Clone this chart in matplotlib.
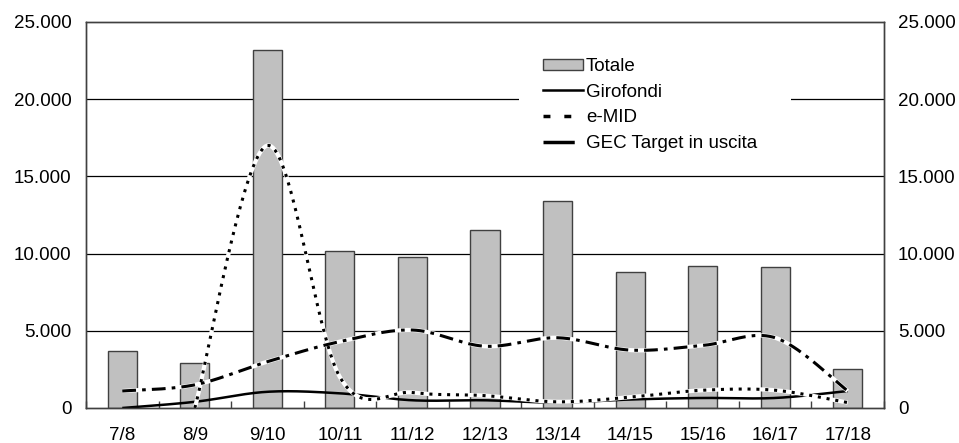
import numpy as np
import matplotlib
matplotlib.use("Agg")
import matplotlib.pyplot as plt
from matplotlib.lines import Line2D
from matplotlib.patches import Patch, Rectangle

categories = ["7/8", "8/9", "9/10", "10/11", "11/12", "12/13", "13/14", "14/15", "15/16", "16/17", "17/18"]
totale = [3700, 2900, 23200, 10200, 9800, 11500, 13400, 8800, 9200, 9100, 2550]
girofondi = [0, 400, 1050, 950, 500, 500, 350, 550, 650, 650, 1100]
emid = [np.nan, 0, 17000, 2000, 1000, 800, 400, 700, 1150, 1150, 350]
gec = [1100, 1500, 3000, 4300, 5050, 4000, 4550, 3750, 4050, 4550, 1100]
yticks = [0, 5000, 10000, 15000, 20000, 25000]
ytick_labels = ["0", "5.000", "10.000", "15.000", "20.000", "25.000"]

plt.rcParams['font.family'] = ['Liberation Sans', 'DejaVu Sans']
FS = 13.5


def smooth(xs, ys, n=40):
    """Excel-like smoothed line: cubic Bezier segments with Catmull-Rom tangents."""
    xs = np.asarray(xs, float)
    ys = np.asarray(ys, float)
    m = ~np.isnan(ys)
    xs, ys = xs[m], ys[m]
    pts = np.column_stack([xs, ys])
    out = []
    k = len(pts)
    for i in range(k - 1):
        p0 = pts[i - 1] if i > 0 else pts[i]
        p1 = pts[i]
        p2 = pts[i + 1]
        p3 = pts[i + 2] if i + 2 < k else pts[i + 1]
        c1 = p1 + (p2 - p0) / 6.0
        c2 = p2 - (p3 - p1) / 6.0
        t = np.linspace(0, 1, n)[:, None]
        seg = ((1 - t) ** 3) * p1 + 3 * ((1 - t) ** 2) * t * c1 + 3 * (1 - t) * t ** 2 * c2 + t ** 3 * p2
        out.append(seg if i == 0 else seg[1:])
    out = np.vstack(out)
    return out[:, 0], out[:, 1]


fig = plt.figure(figsize=(9.59, 4.43), dpi=100)
ax = fig.add_axes([86 / 959, 35 / 443, 798 / 959, 386 / 443])
x = np.arange(len(categories))

ax.bar(x, totale, width=0.4, color="#C0C0C0", edgecolor="#404040", linewidth=1.0, zorder=2)

for v in yticks[1:-1]:
    ax.axhline(v, color="black", linewidth=0.9, zorder=1)

sx, sy = smooth(x, girofondi)
ax.plot(sx, sy, color="black", linewidth=1.8, zorder=4, solid_capstyle="butt")
sx, sy = smooth(x, emid)
ax.plot(sx, sy, color="white", linewidth=3.0, zorder=5, solid_capstyle="butt")
ax.plot(sx, sy, color="black", linewidth=2.2, linestyle=(0, (1.0, 1.9)), zorder=6, dash_capstyle="butt")
sx, sy = smooth(x, gec)
ax.plot(sx, sy, color="white", linewidth=3.0, zorder=5, solid_capstyle="butt")
ax.plot(sx, sy, color="black", linewidth=2.2, linestyle=(0, (4.5, 2.0, 1.2, 2.0)), zorder=6, dash_capstyle="butt")

ax.set_xlim(-0.5, len(categories) - 0.5)
ax.set_ylim(0, 25000)
ax.set_xticks(x)
ax.set_xticklabels(categories, fontsize=FS)
ax.set_xticks(np.arange(-0.5, len(categories), 1.0), minor=True)
ax.tick_params(axis="x", which="major", length=0, pad=14)
ax.tick_params(axis="x", which="minor", length=5, direction="in", color="#404040", width=1)
ax.set_yticks(yticks)
ax.set_yticklabels(ytick_labels, fontsize=FS)
ax.tick_params(axis="y", length=0, pad=10.5)
for s in ax.spines.values():
    s.set_color("#404040")
    s.set_linewidth(1.0)

ax2 = ax.twinx()
ax2.set_ylim(0, 25000)
ax2.set_yticks(yticks)
ax2.set_yticklabels(ytick_labels, fontsize=FS)
ax2.tick_params(axis="y", length=0, pad=10)
for s in ax2.spines.values():
    s.set_color("#404040")
    s.set_linewidth(1.0)

# white legend background (covers gridline behind legend)
ax2.add_patch(Rectangle((519 / 959, 1 - 165 / 443), 272 / 959, 125 / 443,
                        transform=fig.transFigure, facecolor="white", edgecolor="none", zorder=8))

handles = [
    Patch(facecolor="#C0C0C0", edgecolor="#404040", linewidth=1.0),
    Line2D([], [], color="black", linewidth=1.8),
    Line2D([], [], color="black", linewidth=2.5, linestyle=(0, (2, 4))),
    Line2D([], [], color="black", linewidth=2.5, linestyle=(0, (9, 5, 3, 5))),
]
labels = ["Totale", "Girofondi", "e-MID", "GEC Target in uscita"]
leg = ax2.legend(handles, labels, loc="upper left", bbox_to_anchor=(543 / 959, 1 - 58 / 443),
                 bbox_transform=fig.transFigure, frameon=False,
                 fontsize=FS, handlelength=2.15, handleheight=0.55, handletextpad=0.15,
                 labelspacing=0.46, borderpad=0, borderaxespad=0)
leg.set_zorder(10)

fig.savefig("out.png", dpi=100)
